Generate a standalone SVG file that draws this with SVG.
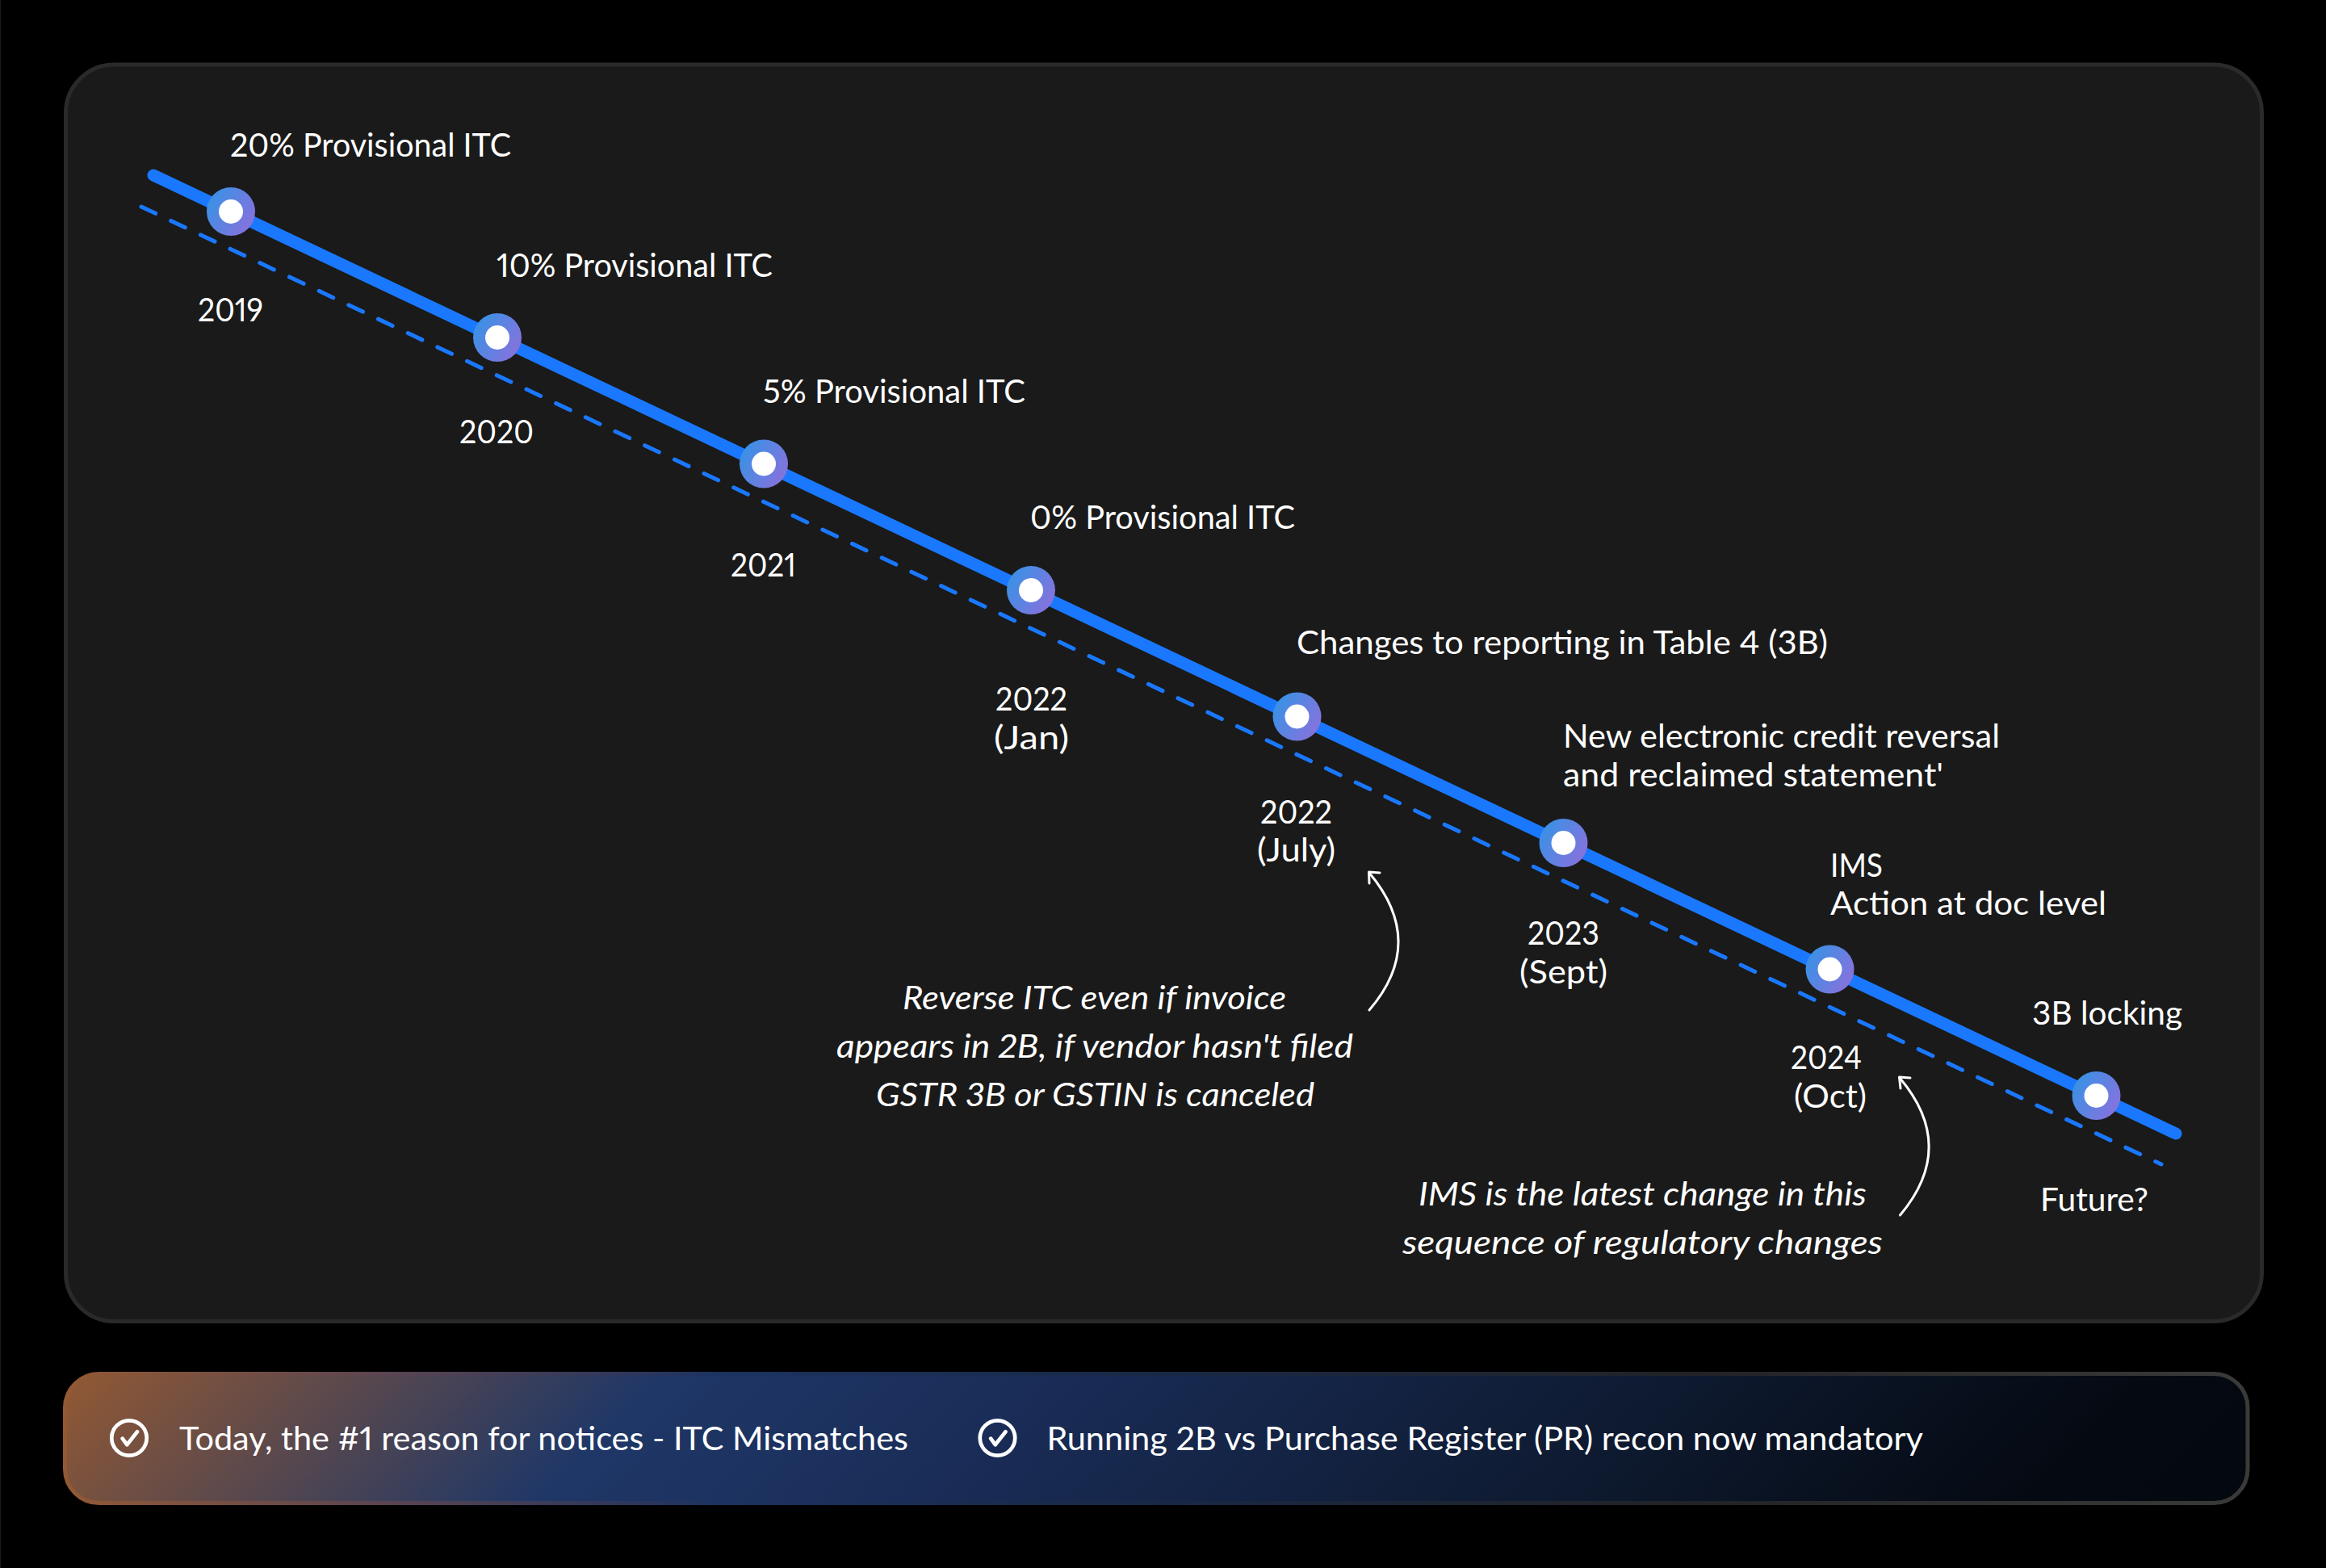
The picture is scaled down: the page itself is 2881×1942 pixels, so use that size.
<svg xmlns="http://www.w3.org/2000/svg" width="2881" height="1942" viewBox="0 0 2881 1942">
<style>
text{font-family:"Lato","Liberation Sans",sans-serif;font-size:40px;fill:#fff;font-variant-numeric:lining-nums proportional-nums;}
.i{font-style:italic;}
.ring{fill:url(#nodeGrad);}
.dot{fill:#fff;}
.note{fill:none;stroke:#fff;stroke-width:3;stroke-linecap:round;stroke-linejoin:round;}
.chk{fill:none;stroke:#fff;stroke-width:4.700;stroke-linecap:round;stroke-linejoin:round;}
</style>
<defs>
<linearGradient id="nodeGrad" x1="0" y1="0.2" x2="1" y2="0.8"><stop offset="0" stop-color="#3593e6"/><stop offset="1" stop-color="#8b70dc"/></linearGradient>
<linearGradient id="barFill" gradientUnits="userSpaceOnUse" x1="79" y1="1699" x2="1515" y2="3135"><stop offset="0" stop-color="#935933"/><stop offset="0.26" stop-color="#1f3767"/><stop offset="0.42" stop-color="#1a2d58"/><stop offset="0.7" stop-color="#0e1a30"/><stop offset="0.9" stop-color="#050a12"/><stop offset="1" stop-color="#04080f"/></linearGradient>
<linearGradient id="barStroke" gradientUnits="userSpaceOnUse" x1="79" y1="1780" x2="2786" y2="1780"><stop offset="0" stop-color="#935933"/><stop offset="0.15" stop-color="#594452"/><stop offset="0.3" stop-color="#1c3260"/><stop offset="0.5" stop-color="#182845"/><stop offset="0.75" stop-color="#222326"/><stop offset="1" stop-color="#3a3a3a"/></linearGradient>
</defs>
<rect x="0" y="0" width="2881" height="1942" fill="#000"/>
<rect x="0" y="0" width="1" height="1942" fill="#1a1a1a"/>
<g id="panel"><rect x="81.500" y="80" width="2720" height="1556.500" rx="60" ry="60" fill="#1a1a1a" stroke="#2a2a2a" stroke-width="5"/></g>
<g id="connectors">
<line x1="190" y1="217" x2="2695" y2="1404" stroke="#1a78ff" stroke-width="15" stroke-linecap="round"/>
<line x1="175" y1="256" x2="2677" y2="1442" stroke="#1a78ff" stroke-width="5" stroke-linecap="round" stroke-dasharray="19.500 21.100"/>
<path class="note" d="M1696 1251Q1768 1167 1696 1081"/>
<path class="note" d="M1696 1094L1695.500 1080L1709 1081"/>
<path class="note" d="M2353.500 1505Q2425 1420 2353 1335"/>
<path class="note" d="M2354 1348L2352.500 1334L2366 1335"/>
</g>
<g id="n2019"><circle class="ring" cx="286" cy="262" r="30"/><circle class="dot" cx="286" cy="262" r="15"/><text x="285" y="194" textLength="348" lengthAdjust="spacingAndGlyphs">20% Provisional ITC</text><text x="245" y="398" textLength="81" lengthAdjust="spacingAndGlyphs">2019</text></g>
<g id="n2020"><circle class="ring" cx="616" cy="418" r="30"/><circle class="dot" cx="616" cy="418" r="15"/><text x="615" y="343" textLength="342" lengthAdjust="spacingAndGlyphs">10% Provisional ITC</text><text x="569" y="549" textLength="92" lengthAdjust="spacingAndGlyphs">2020</text></g>
<g id="n2021"><circle class="ring" cx="946" cy="574.500" r="30"/><circle class="dot" cx="946" cy="574.500" r="15"/><text x="945" y="499" textLength="325" lengthAdjust="spacingAndGlyphs">5% Provisional ITC</text><text x="905" y="714" textLength="81" lengthAdjust="spacingAndGlyphs">2021</text></g>
<g id="n2022a"><circle class="ring" cx="1277" cy="731" r="30"/><circle class="dot" cx="1277" cy="731" r="15"/><text x="1276" y="655" textLength="328" lengthAdjust="spacingAndGlyphs">0% Provisional ITC</text><text x="1233" y="880" textLength="89" lengthAdjust="spacingAndGlyphs">2022</text><text x="1231" y="928" textLength="93" lengthAdjust="spacingAndGlyphs">(Jan)</text></g>
<g id="n2022b"><circle class="ring" cx="1606.500" cy="887.500" r="30"/><circle class="dot" cx="1606.500" cy="887.500" r="15"/><text x="1606" y="810" textLength="658" lengthAdjust="spacingAndGlyphs">Changes to reporting in Table 4 (3B)</text><text x="1561" y="1020" textLength="89" lengthAdjust="spacingAndGlyphs">2022</text><text x="1557" y="1067" textLength="97" lengthAdjust="spacingAndGlyphs">(July)</text></g>
<g id="n2023"><circle class="ring" cx="1936.500" cy="1044" r="30"/><circle class="dot" cx="1936.500" cy="1044" r="15"/><text x="1936" y="926" textLength="541" lengthAdjust="spacingAndGlyphs">New electronic credit reversal</text><text x="1936" y="974" textLength="471" lengthAdjust="spacingAndGlyphs">and reclaimed statement'</text><text x="1892" y="1170" textLength="89" lengthAdjust="spacingAndGlyphs">2023</text><text x="1882" y="1218" textLength="109" lengthAdjust="spacingAndGlyphs">(Sept)</text></g>
<g id="n2024"><circle class="ring" cx="2266.500" cy="1200.500" r="30"/><circle class="dot" cx="2266.500" cy="1200.500" r="15"/><text x="2267" y="1086" textLength="65" lengthAdjust="spacingAndGlyphs">IMS</text><text x="2267" y="1133" textLength="342" lengthAdjust="spacingAndGlyphs">Action at doc level</text><text x="2218" y="1324" textLength="88" lengthAdjust="spacingAndGlyphs">2024</text><text x="2222" y="1372" textLength="90" lengthAdjust="spacingAndGlyphs">(Oct)</text></g>
<g id="nFuture"><circle class="ring" cx="2596.500" cy="1357" r="30"/><circle class="dot" cx="2596.500" cy="1357" r="15"/><text x="2517" y="1269" textLength="186" lengthAdjust="spacingAndGlyphs">3B locking</text><text x="2527" y="1500" textLength="134" lengthAdjust="spacingAndGlyphs">Future?</text></g>
<g id="note1"><text class="i" x="1118" y="1250" textLength="475" lengthAdjust="spacingAndGlyphs">Reverse ITC even if invoice</text><text class="i" x="1036" y="1310" textLength="640" lengthAdjust="spacingAndGlyphs">appears in 2B, if vendor hasn't filed</text><text class="i" x="1085" y="1370" textLength="543" lengthAdjust="spacingAndGlyphs">GSTR 3B or GSTIN is canceled</text></g>
<g id="note2"><text class="i" x="1757" y="1493" textLength="555" lengthAdjust="spacingAndGlyphs">IMS is the latest change in this</text><text class="i" x="1737" y="1553" textLength="595" lengthAdjust="spacingAndGlyphs">sequence of regulatory changes</text></g>
<g id="bar"><rect x="80.500" y="1701.500" width="2703.500" height="160" rx="42" ry="42" fill="url(#barFill)" stroke="url(#barStroke)" stroke-width="5"/>
<circle class="chk" cx="160" cy="1781" r="21.700"/><path class="chk" d="M151.700 1781.700L157.300 1789.300L170 1773.300"/><text x="222" y="1796" textLength="903" lengthAdjust="spacingAndGlyphs">Today, the #1 reason for notices - ITC Mismatches</text>
<circle class="chk" cx="1235.500" cy="1781" r="21.700"/><path class="chk" d="M1227.200 1781.700L1232.800 1789.300L1245.500 1773.300"/><text x="1296.500" y="1796" textLength="1085.500" lengthAdjust="spacingAndGlyphs">Running 2B vs Purchase Register (PR) recon now mandatory</text></g>
</svg>
